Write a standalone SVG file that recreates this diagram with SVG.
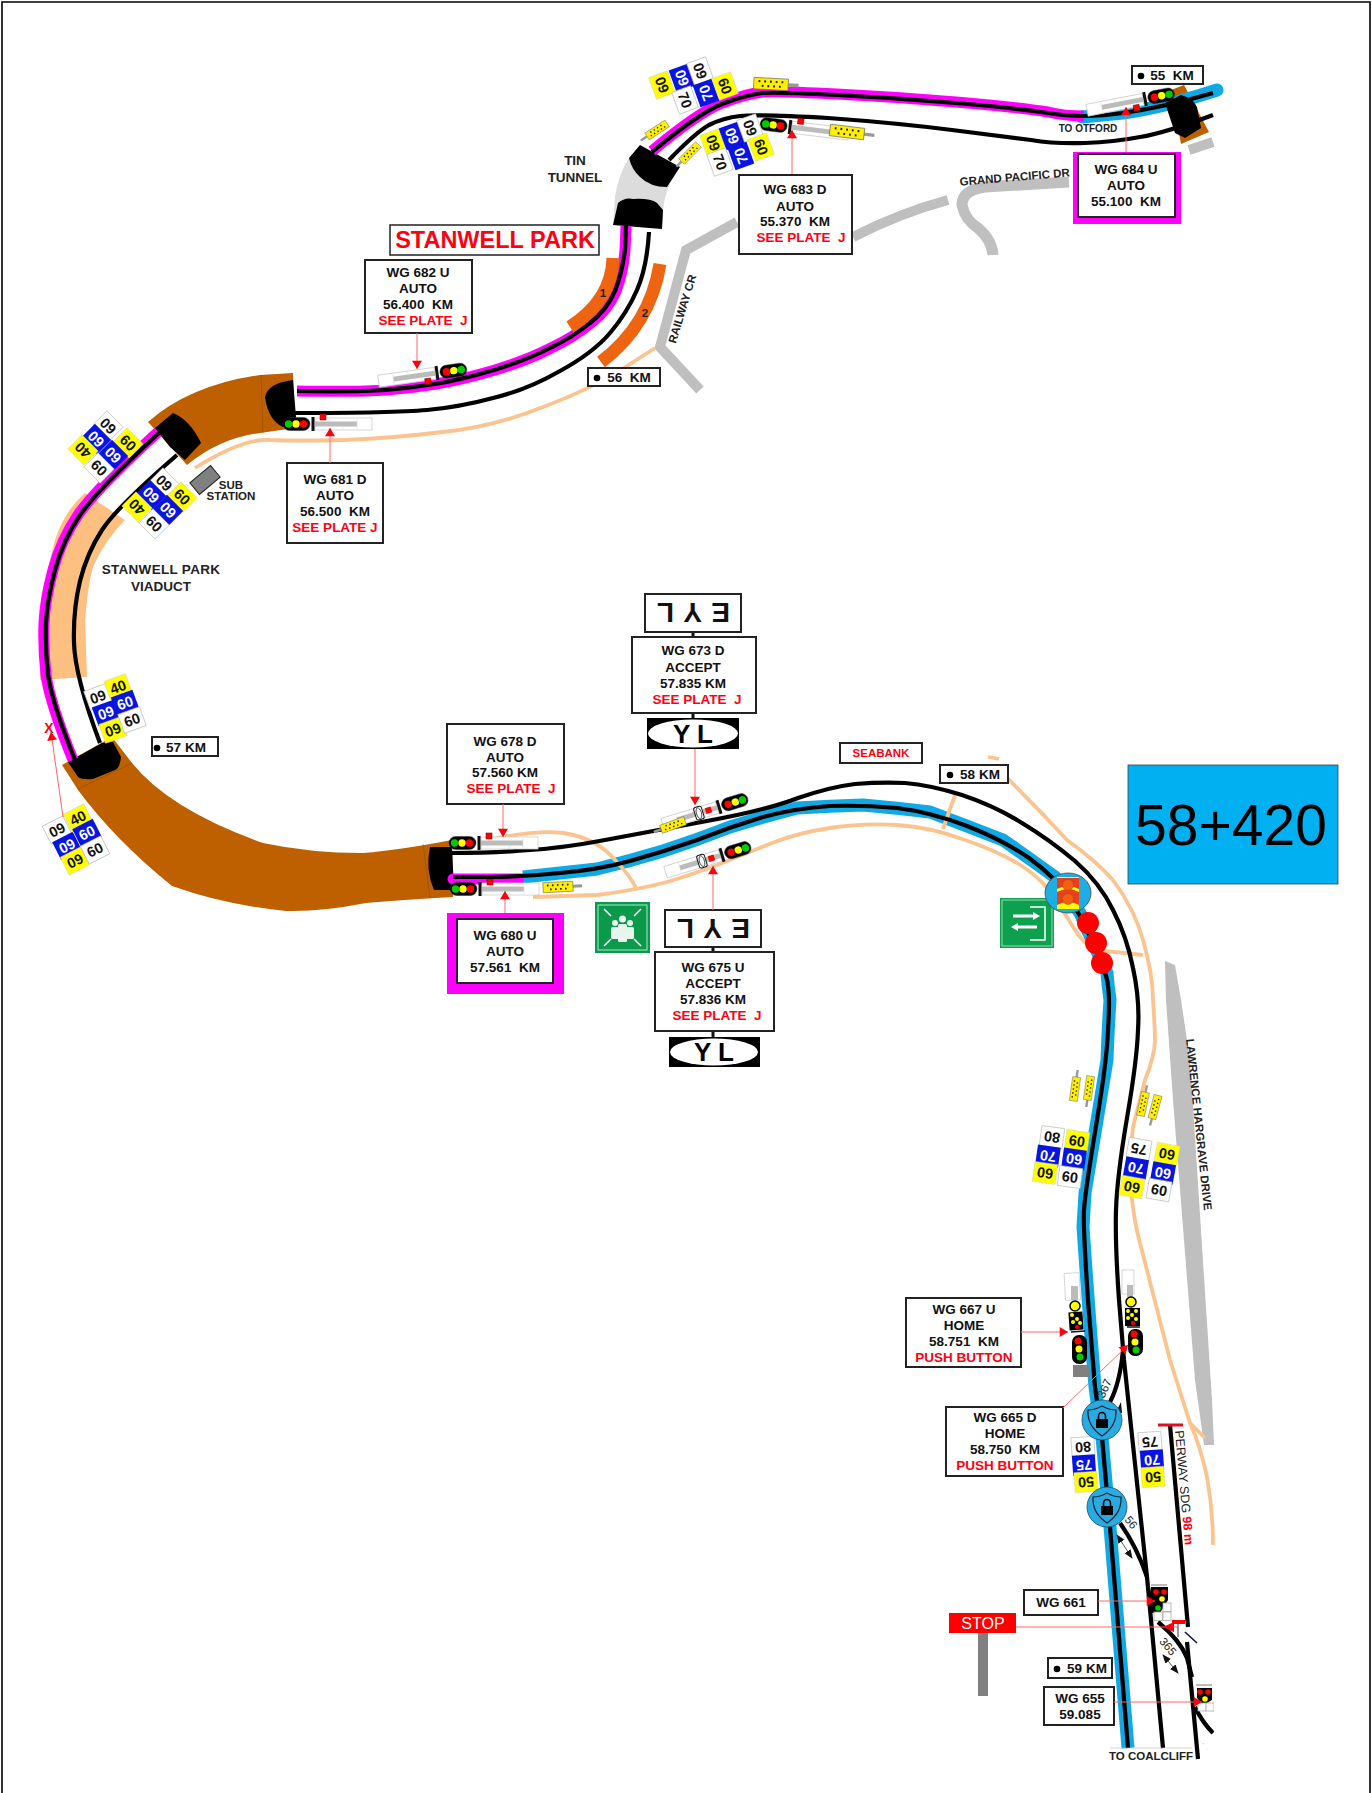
<svg xmlns="http://www.w3.org/2000/svg" width="1372" height="1793" viewBox="0 0 1372 1793">
<style>
text{font-family:"Liberation Sans",Arial,sans-serif;white-space:pre;text-anchor:middle}
.t{font-size:13.5px;font-weight:700;fill:#111}
.r{font-size:13.5px;font-weight:700;fill:#f01}
.box{fill:#fff;stroke:#222;stroke-width:2}
.n{font-size:14.5px;font-weight:700;fill:#111}
.nw{font-size:14.5px;font-weight:700;fill:#fff}
.lbl{font-size:11.5px;font-weight:700;fill:#222}
.trk{fill:none;stroke:#000;stroke-width:4.2}
.mag{fill:none;stroke:#f0f;stroke-width:11}
.blu{fill:none;stroke:#0fa9e6;stroke-width:13}
.pch{fill:none;stroke:#fbc48e;stroke-width:3.8}
.gry{fill:none;stroke:#bfbfbf;stroke-width:10}
.ld{fill:none;stroke:#f66;stroke-width:1;marker-end:url(#ah)}
.br{fill:#bf6000}
.po{fill:#000}
.or{fill:none;stroke:#ee6410;stroke-width:13}
.dbl{fill:none;stroke:#333;stroke-width:.8;marker-start:url(#bk);marker-end:url(#bk)}
</style>
<defs>
<marker id="ah" viewBox="0 0 10 12" refX="10" refY="6" markerWidth="10" markerHeight="10" markerUnits="userSpaceOnUse" orient="auto"><path d="M0,0L10,6L0,12Z" fill="#f01"/></marker>
<marker id="bk" viewBox="0 0 10 8" refX="9" refY="4" markerWidth="9" markerHeight="8" markerUnits="userSpaceOnUse" orient="auto-start-reverse"><path d="M0,0L10,4L0,8Z" fill="#111"/></marker>
<rect id="cw" x="-11.500" y="-10" width="23" height="20" fill="#fff" stroke="#bbb" stroke-width=".7"/>
<rect id="cb" x="-11.500" y="-10" width="23" height="20" fill="#0a14e0"/>
<rect id="cy" x="-11.500" y="-10" width="23" height="20" fill="#ff0" stroke="#ccc" stroke-width=".5"/>
<g id="post"><rect x="-59" y="-6" width="57" height="12" fill="#fff" stroke="#ccc" stroke-width=".8"/><rect x="-44" y="-2.5" width="42" height="5" fill="#bbb"/><path d="M-44,-6V6M-30,-6V-2M-16,2V6" stroke="#ddd" stroke-width=".6"/></g>
<g id="head"><rect x="-1.500" y="-7" width="3" height="14" fill="#111"/><rect x="3" y="-6.500" width="27" height="13" rx="6.500" fill="#000" stroke="#333" stroke-width=".5"/><circle cx="9.500" r="3.700" fill="#f00"/><circle cx="17" r="3.700" fill="#ff0"/><circle cx="24.500" r="3.700" fill="#0c0"/></g>
<g id="sig"><use href="#post"/><use href="#head"/><rect x="-13" y="4" width="6" height="6" fill="#f00" stroke="#600" stroke-width=".5"/></g>
<g id="sigyl"><use href="#post"/><use href="#head"/><rect x="-14" y="-3" width="6" height="6" fill="#f00"/><rect x="-25" y="-6.500" width="8" height="13" rx="2" fill="#fff" stroke="#111"/><ellipse cx="-21" rx="2.500" ry="5.500" fill="none" stroke="#111" stroke-width=".7"/></g>
<g id="pad"><rect x="15" y="-1.500" width="9" height="3" fill="#999"/><rect x="-15" y="-5" width="30" height="10" fill="#ffef00" stroke="#666" stroke-width=".6"/><path d="M-11,-2h1.600M-6,-2h1.600M-1,-2h1.600M4,-2h1.600M9,-2h1.600M-8,2h1.600M-3,2h1.600M2,2h1.600M7,2h1.600" stroke="#222" stroke-width="1.800"/></g>
<g id="lock"><circle r="20" fill="#29abe2" stroke="#14506e" stroke-width=".8"/><path d="M0,-14Q7,-10 14,-10Q15,6 0,16Q-15,6 -14,-10Q-7,-10 0,-14Z" fill="none" stroke="#123" stroke-width="1.200"/><path d="M-3.500,-1V-4A3.500,3.500 0 0 1 3.500,-4V-1" fill="none" stroke="#000" stroke-width="1.600"/><rect x="-6" y="-1" width="12" height="9" fill="#000"/></g>
<clipPath id="edge"><rect x="0" y="0" width="1214" height="1793"/></clipPath>
</defs>
<rect width="1372" height="1793" fill="#fff"/>
<path id="frame" d="M2,1793V2H1370V1793" fill="none" stroke="#000" stroke-width="1.600"/>

<g id="roads">
<path class="gry" style="stroke-width:11" d="M1069,182L985,187Q962,190 962,205Q965,220 978,228Q992,240 993,255"/>
<path class="gry" d="M948,200Q900,213 853,237"/>
<path class="gry" d="M737,222L686,250L660,347L700,390"/>
<path class="gry" d="M1213,142L1189,150"/>
<path d="M1165,961L1175,965L1181,1000L1190,1060L1212,1400L1214,1445L1204,1445L1195,1380L1173,1100L1166,1000Z" fill="#bfbfbf"/>
</g>

<g id="viaduct"><path d="M85,493Q65,510 55,540L42,593L40,680L87,677L85,620Q88,585 93,567Q105,540 125,520L98,502Z" fill="#fdc080"/></g>
<g id="tunnel-1"><path class="br" d="M293,373L260,375Q190,385 148,422L187,465Q220,438 260,433L295,428Z"/><path class="po" d="M155,428L173,413Q190,420 201,443L185,460L170,447Z"/><path class="po" d="M265,397Q268,383 293,380L296,417Q290,428 283,427Q268,420 265,397Z"/><path d="M261,375L263,433" stroke="#8a4500" stroke-width=".5"/></g>
<g id="tunnel-2"><path class="br" d="M62,765L112,737L132,763Q170,810 263,843Q310,853 363,853Q400,850 452,840L453,897Q400,900 366,903Q320,912 286,911Q225,905 172,886Q115,840 78,790Z"/><path class="po" d="M68,762L102,743L113,742L121,757Q120,768 115,770L93,779Q82,780 78,777Z"/><path class="po" d="M430,847L452,847L454,890L434,890Q425,870 430,847Z"/><path d="M78,789L132,763M423,844L430,898" stroke="#8a4500" stroke-width=".5" fill="none"/></g>
<g id="tin-tunnel"><path d="M615,197Q618,175 629,158L675,175Q665,190 663,210L662,229L613,225Z" fill="#dcdcdc"/><path class="po" d="M640,145L680,167L667,187Q650,187 640,177Q632,170 629,158Z"/><path class="po" d="M618,203Q625,197 633,199Q650,198 657,203L663,210L662,229L613,225Z"/></g>
<g id="tunnel-3"><path class="br" d="M1171,90L1184,85L1209,132L1181,144Z"/></g>

<g id="tracks">
<path class="blu" stroke-linecap="round" d="M1217,90Q1165,107 1123,113L1082,117"/>
<path class="mag" d="M1084,116Q1065,116 1048,112Q1015,107 956,102Q897,97 837,94Q778,91 762,92Q746,94 722,103Q699,112 652,151"/>
<path class="mag" d="M626,226L625,250Q623,273 616,291Q608,310 591,323Q574,337 551,348Q528,360 495,370Q461,380 436,384Q411,388 386,390Q361,392 297,391"/>
<path class="mag" d="M160,432Q97,490 80,515Q63,540 55,570Q47,600 46,623Q45,647 48,675Q52,703 75,760" transform="translate(-2,0)"/>
<path class="mag" d="M453,879L520,879" stroke-linecap="round"/>
<path class="blu" d="M523,877Q560,873 597,869Q630,861 663,851Q697,840 730,827Q763,817 797,808Q830,806 863,805Q897,808 930,812Q967,826 1003,840Q1029,858 1055,877Q1067,895 1080,913Q1093,943 1107,973Q1108,986 1110,1000Q1108,1030 1107,1060Q1096,1126 1085,1193Q1084,1210 1083,1227Q1088,1300 1095,1387L1102,1437L1110,1527L1128,1748"/>
<path class="pch" d="M655,348L624,368Q593,388 543,407Q493,427 443,432Q393,438 345,440Q297,441 270,440Q243,438 195,468"/>
<path class="pch" d="M533,897L597,895Q637,890 667,882Q697,873 722,863Q747,853 772,843Q797,833 830,828Q863,823 897,825Q930,827 965,840Q1000,852 1022,866Q1043,880 1055,898Q1067,917 1075,930Q1083,943 1095,950L1143,955"/>
<path class="pch" d="M490,840L497,838Q540,830 563,833Q597,838 615,860Q630,875 637,890"/>
<path class="pch" d="M995,766Q1030,800 1067,840Q1095,860 1113,880Q1135,910 1143,940Q1153,975 1153,1000Q1155,1030 1155,1040Q1155,1055 1145,1080L1133,1127Q1128,1170 1132,1200Q1135,1225 1140,1243L1170,1360L1190,1423Q1200,1445 1207,1477Q1213,1510 1213,1545"/>
<path class="pch" d="M1190,1423L1205,1438M955,795L943,829M988,757L999,759"/>
<path class="trk" d="M1213,93Q1165,107 1123,113Q1082,119 1048,113Q1015,108 956,103Q897,98 837,95Q778,92 762,93Q746,95 722,104Q699,113 652,152"/>
<path class="trk" d="M626,226L625,250Q622,273 615,291Q607,310 590,323Q573,337 550,348Q527,360 494,370Q460,380 435,384Q410,388 385,390Q360,392 297,391"/>
<path class="trk" d="M160,432Q97,490 80,515Q63,540 55,570Q47,600 46,623Q45,647 48,675Q52,703 75,760"/>
<path class="trk" d="M1213,115Q1165,133 1140,137Q1114,142 1085,143Q1055,144 1031,140Q1007,137 952,130Q897,123 828,118Q758,114 740,116Q723,118 709,125Q695,133 669,160"/>
<path class="trk" d="M649,232Q647,267 637,290Q627,313 610,333Q593,353 560,371Q527,390 493,398Q460,407 427,410Q393,413 295,413"/>
<path class="trk" d="M177,455Q117,507 102,530Q87,553 80,581Q73,610 74,643Q75,677 100,743"/>
<path class="trk" d="M450,853Q497,853 530,850Q563,848 605,840Q647,832 707,821Q767,810 798,798Q830,787 855,784Q880,782 905,783Q930,785 962,795Q995,806 1022,823Q1050,840 1075,861Q1100,883 1113,910Q1127,937 1133,968Q1140,1000 1138,1030Q1137,1060 1127,1118Q1117,1177 1116,1210Q1115,1243 1119,1300L1124,1360L1147,1577L1163,1748"/>
<path class="trk" d="M453,877L490,877Q523,877 560,873Q597,870 630,861Q663,852 697,840Q730,827 763,817Q797,808 830,806Q863,805 897,808Q930,812 967,826Q1003,840 1029,858Q1055,877 1067,895Q1080,913 1093,943Q1107,973 1108,986Q1110,1000 1108,1030Q1107,1060 1096,1126Q1085,1193 1084,1210Q1083,1227 1088,1300L1095,1387L1102,1437L1110,1527L1128,1748"/>
<path class="trk" d="M1110,1402Q1120,1383 1123,1350"/>
<path class="trk" d="M1120,1523Q1137,1547 1147,1577"/>
<path class="trk" d="M1170,1425L1188,1627"/>
<path d="M1185,1632L1197,1643" stroke="#115" stroke-width="1.600" fill="none"/>
<path class="trk" d="M1187,1642L1198,1759"/>
<path class="trk" d="M1158,1622Q1180,1640 1187,1658L1192,1677"/>
<path class="trk" d="M1195,1707Q1202,1722 1213,1733" clip-path="url(#edge)"/>
<path d="M1158,1425H1183" stroke="#e01020" stroke-width="3"/>
<path class="dbl" d="M1117,1535L1132,1558"/>
<path class="dbl" d="M1163,1655L1178,1673"/>
<path d="M1116,1412L1121,1402L1122,1413Z" fill="#111"/>
<path d="M1110,1748H1192" stroke="#bbb" stroke-width=".6"/>
</g>

<g id="platform-1"><path class="or" d="M613,258Q612,300 570,327"/><text class="lbl" x="603" y="297">1</text></g>
<g id="platform-2"><path class="or" d="M660,264Q650,325 601,362"/><text class="lbl" x="645" y="317">2</text></g>
<g id="portal-tu3"><path class="po" d="M1165,103L1181,95Q1193,98 1197,107L1201,128L1185,138L1175,133Z"/></g>

<g id="sig-684"><use href="#sig" transform="translate(1145,99) rotate(-11)"/></g>
<g id="sig-683"><use href="#sig" transform="translate(790,127) rotate(187)"/><use href="#pad" transform="translate(847,132) rotate(7) scale(1.150)"/></g>
<g id="sig-682"><use href="#sig" transform="translate(437,373) rotate(-8)"/></g>
<g id="sig-681"><use href="#sig" transform="translate(313,424) rotate(180)"/></g>
<g id="sig-678"><use href="#sig" transform="translate(479,843) rotate(180)"/></g>
<g id="sig-680"><use href="#sig" transform="translate(480,889) rotate(180)"/><use href="#pad" transform="translate(558,887) rotate(-3)"/></g>
<g id="sig-673"><use href="#sigyl" transform="translate(719,807) rotate(-17)"/><use href="#pad" transform="translate(673,825) rotate(160) scale(.85)"/></g>
<g id="sig-675"><use href="#sigyl" transform="translate(722,855) rotate(-17)"/></g>
<g id="sig-667">
<rect x="1065" y="1273" width="15" height="27" fill="#fff" stroke="#ccc" stroke-width=".8" transform="rotate(-3 1073 1290)"/><rect x="1071" y="1286" width="7" height="14" fill="#bbb"/>
<circle cx="1075" cy="1306" r="5" fill="#ff0" stroke="#000" stroke-width="1.500"/>
<rect x="1069" y="1312" width="14" height="18" fill="#000" transform="rotate(-4 1076 1321)"/>
<g fill="#ff0"><circle cx="1072" cy="1315" r="2"/><circle cx="1077" cy="1319" r="2"/><circle cx="1073" cy="1322" r="2"/><circle cx="1080" cy="1323" r="2"/></g><circle cx="1077" cy="1327" r="2" fill="#f00"/>
<path d="M1071,1332L1085,1331" stroke="#111" stroke-width="1.500"/>
<rect x="1072" y="1335" width="15" height="29" rx="7" fill="#000"/><circle cx="1078" cy="1341" r="3.500" fill="#f00"/><circle cx="1079" cy="1349" r="3.500" fill="#ff0"/><circle cx="1080" cy="1357" r="3.500" fill="#0c0"/>
<rect x="1073" y="1365" width="17" height="12" fill="#808080"/>
</g>
<g id="sig-665">
<rect x="1122" y="1270" width="12" height="24" fill="#fff" stroke="#ccc" stroke-width=".8"/><rect x="1127" y="1285" width="6" height="12" fill="#bbb"/>
<circle cx="1131" cy="1302" r="5" fill="#ff0" stroke="#000" stroke-width="1.500"/>
<rect x="1125" y="1308" width="15" height="18" fill="#000"/>
<g fill="#ff0"><circle cx="1128" cy="1311" r="2"/><circle cx="1136" cy="1311" r="2"/><circle cx="1132" cy="1315" r="2"/><circle cx="1128" cy="1318" r="2"/><circle cx="1136" cy="1319" r="2"/></g><circle cx="1133" cy="1323" r="2" fill="#f00"/>
<path d="M1127,1327H1140" stroke="#111" stroke-width="1.500"/>
<rect x="1128" y="1329" width="15" height="27" rx="7" fill="#000"/><circle cx="1134" cy="1334" r="3.500" fill="#f00"/><circle cx="1135" cy="1342" r="3.500" fill="#ff0"/><circle cx="1136" cy="1350" r="3.500" fill="#0c0"/>
</g>
<g id="sig-661">
<path d="M1151,1585H1167" stroke="#555" stroke-width=".8"/>
<path d="M1151,1587H1168L1168,1600L1160,1613L1150,1613L1148,1603Z" fill="#000"/>
<circle cx="1156" cy="1592" r="2.800" fill="#f00"/><circle cx="1164" cy="1592" r="2.800" fill="#f00"/><circle cx="1162" cy="1599" r="2.800" fill="#ff0"/><circle cx="1158" cy="1608" r="2.800" fill="#0c0"/>
<g fill="#fff" stroke="#aaa" stroke-width=".8"><rect x="1163" y="1603" width="8" height="8.500"/><rect x="1154" y="1612" width="8.500" height="8.500"/><rect x="1163" y="1612" width="8" height="8.500"/></g>
</g>
<g id="sig-655" clip-path="url(#edge)">
<path d="M1196,1685H1212" stroke="#555" stroke-width=".8"/>
<path d="M1197,1688H1212V1700L1207,1703H1201L1197,1698Z" fill="#000"/>
<circle cx="1200" cy="1692" r="2.800" fill="#f00"/><circle cx="1208" cy="1692" r="2.800" fill="#f00"/><circle cx="1205" cy="1699" r="2.800" fill="#ff0"/>
<g fill="#fff" stroke="#aaa" stroke-width=".8"><rect x="1198" y="1703" width="8" height="8"/><rect x="1206" y="1703" width="8" height="8"/></g>
</g>
<g id="small-stop"><rect x="1172" y="1620" width="13" height="4" fill="#f00"/><rect x="1177" y="1624" width="2" height="13" fill="#999"/></g>

<g id="pads">
<use href="#pad" transform="translate(771,84) rotate(3) scale(1.150)"/>
<use href="#pad" transform="translate(657,130) rotate(147) scale(.8)"/>
<use href="#pad" transform="translate(690,153) rotate(135) scale(.8)"/>
<use href="#pad" transform="translate(1075,1089) rotate(-82) scale(.8)"/>
<use href="#pad" transform="translate(1089,1088) rotate(98) scale(.8)"/>
<use href="#pad" transform="translate(1143,1104) rotate(-78) scale(.8)"/>
<use href="#pad" transform="translate(1155,1107) rotate(105) scale(.8)"/>
</g>

<g id="plates">
<g transform="translate(662,85) rotate(-110)"><use href="#cy"/><text class="n" y="5">60</text></g>
<g transform="translate(682,78) rotate(-110)"><use href="#cb"/><text class="nw" y="5">60</text></g>
<g transform="translate(700,71) rotate(-110)"><use href="#cw"/><text class="n" y="5">60</text></g>
<g transform="translate(685,100) rotate(70)"><use href="#cw"/><text class="n" y="5">70</text></g>
<g transform="translate(706,93) rotate(-110)"><use href="#cb"/><text class="nw" y="5">70</text></g>
<g transform="translate(725,86) rotate(70)"><use href="#cy"/><text class="n" y="5">60</text></g>
<g transform="translate(713,143) rotate(-110)"><use href="#cy"/><text class="n" y="5">60</text></g>
<g transform="translate(732,136) rotate(-110)"><use href="#cb"/><text class="nw" y="5">60</text></g>
<g transform="translate(750,128) rotate(-110)"><use href="#cw"/><text class="n" y="5">60</text></g>
<g transform="translate(720,162) rotate(70)"><use href="#cw"/><text class="n" y="5">70</text></g>
<g transform="translate(741,156) rotate(-110)"><use href="#cb"/><text class="nw" y="5">70</text></g>
<g transform="translate(761,147) rotate(70)"><use href="#cy"/><text class="n" y="5">60</text></g>
<g transform="translate(108,426) rotate(225)"><use href="#cw"/><text class="n" y="5">60</text></g>
<g transform="translate(96,439) rotate(225)"><use href="#cb"/><text class="nw" y="5">60</text></g>
<g transform="translate(83,450) rotate(225)"><use href="#cy"/><text class="n" y="5">40</text></g>
<g transform="translate(128,443) rotate(45)"><use href="#cy"/><text class="n" y="5">60</text></g>
<g transform="translate(113,455) rotate(225)"><use href="#cb"/><text class="nw" y="5">60</text></g>
<g transform="translate(99,468) rotate(45)"><use href="#cw"/><text class="n" y="5">60</text></g>
<g transform="translate(164,483) rotate(225)"><use href="#cw"/><text class="n" y="5">60</text></g>
<g transform="translate(151,495) rotate(225)"><use href="#cb"/><text class="nw" y="5">60</text></g>
<g transform="translate(137,507) rotate(225)"><use href="#cy"/><text class="n" y="5">40</text></g>
<g transform="translate(182,497) rotate(45)"><use href="#cy"/><text class="n" y="5">60</text></g>
<g transform="translate(168,510) rotate(225)"><use href="#cb"/><text class="nw" y="5">60</text></g>
<g transform="translate(154,524) rotate(45)"><use href="#cw"/><text class="n" y="5">60</text></g>
<g transform="translate(98,697) rotate(160)"><use href="#cw"/><text class="n" y="5">60</text></g>
<g transform="translate(106,713) rotate(160)"><use href="#cb"/><text class="nw" y="5">60</text></g>
<g transform="translate(113,730) rotate(160)"><use href="#cy"/><text class="n" y="5">60</text></g>
<g transform="translate(118,687) rotate(-20)"><use href="#cy"/><text class="n" y="5">40</text></g>
<g transform="translate(125,703) rotate(-20)"><use href="#cb"/><text class="nw" y="5">60</text></g>
<g transform="translate(132,720) rotate(-20)"><use href="#cw"/><text class="n" y="5">60</text></g>
<g transform="translate(57,830) rotate(153)"><use href="#cw"/><text class="n" y="5">60</text></g>
<g transform="translate(67,846) rotate(153)"><use href="#cb"/><text class="nw" y="5">60</text></g>
<g transform="translate(75,861) rotate(153)"><use href="#cy"/><text class="n" y="5">60</text></g>
<g transform="translate(78,818) rotate(-27)"><use href="#cy"/><text class="n" y="5">40</text></g>
<g transform="translate(87,833) rotate(-27)"><use href="#cb"/><text class="nw" y="5">60</text></g>
<g transform="translate(95,850) rotate(-27)"><use href="#cw"/><text class="n" y="5">60</text></g>
<g transform="translate(1052,1137) rotate(188)"><use href="#cw"/><text class="n" y="5">80</text></g>
<g transform="translate(1048,1156) rotate(188)"><use href="#cb"/><text class="nw" y="5">70</text></g>
<g transform="translate(1045,1173) rotate(188)"><use href="#cy"/><text class="n" y="5">60</text></g>
<g transform="translate(1077,1141) rotate(8)"><use href="#cy"/><text class="n" y="5">60</text></g>
<g transform="translate(1074,1159) rotate(188)"><use href="#cb"/><text class="nw" y="5">60</text></g>
<g transform="translate(1070,1177) rotate(8)"><use href="#cw"/><text class="n" y="5">60</text></g>
<g transform="translate(1139,1149) rotate(190)"><use href="#cw"/><text class="n" y="5">75</text></g>
<g transform="translate(1136,1168) rotate(190)"><use href="#cb"/><text class="nw" y="5">70</text></g>
<g transform="translate(1132,1187) rotate(190)"><use href="#cy"/><text class="n" y="5">60</text></g>
<g transform="translate(1167,1154) rotate(190)"><use href="#cy"/><text class="n" y="5">60</text></g>
<g transform="translate(1163,1173) rotate(190)"><use href="#cb"/><text class="nw" y="5">60</text></g>
<g transform="translate(1159,1190) rotate(10)"><use href="#cw"/><text class="n" y="5">60</text></g>
<g transform="translate(1083,1447) rotate(176)"><use href="#cw"/><text class="n" y="5">80</text></g>
<g transform="translate(1084,1465) rotate(176)"><use href="#cb"/><text class="nw" y="5">75</text></g>
<g transform="translate(1086,1482) rotate(176)"><use href="#cy"/><text class="n" y="5">50</text></g>
<g transform="translate(1150,1442) rotate(176)"><use href="#cw"/><text class="n" y="5">75</text></g>
<g transform="translate(1152,1460) rotate(176)"><use href="#cb"/><text class="nw" y="5">70</text></g>
<g transform="translate(1153,1477) rotate(176)"><use href="#cy"/><text class="n" y="5">50</text></g>
</g>

<g id="substation"><rect x="-13.500" y="-7.500" width="27" height="15" transform="translate(205,480) rotate(-40)" fill="#808080" stroke="#222"/><text class="lbl" x="231" y="489">SUB</text><text class="lbl" x="231" y="500">STATION</text></g>
<g id="labels">
<text class="lbl" style="font-size:13.500px" x="575" y="165">TIN</text>
<text class="lbl" style="font-size:13.500px" x="575" y="182">TUNNEL</text>
<text class="lbl" style="font-size:13.500px;letter-spacing:.3px" x="161" y="574">STANWELL PARK</text>
<text class="lbl" style="font-size:13.500px" x="161" y="591">VIADUCT</text>
<text class="lbl" style="font-size:10px" x="1088" y="132">TO OTFORD</text>
<text class="lbl" transform="translate(1015,181) rotate(-5)">GRAND PACIFIC DR</text>
<text class="lbl" transform="translate(686,310) rotate(-73)">RAILWAY CR</text>
<text class="lbl" transform="translate(1195,1125) rotate(84)">LAWRENCE HARGRAVE DRIVE</text>
<text class="lbl" style="font-weight:400;font-size:12.500px" transform="translate(1180,1488) rotate(85)">PERWAY SDG <tspan fill="#f01" font-weight="700">98 m</tspan></text>
<text class="lbl" x="1151" y="1760">TO COALCLIFF</text>
<text class="lbl" style="font-weight:400" transform="translate(1108,1390) rotate(-65)">367</text>
<text class="lbl" style="font-weight:400" transform="translate(1128,1525) rotate(50)">56</text>
<text class="lbl" style="font-weight:400" transform="translate(1165,1649) rotate(50)">365</text>
<text class="lbl" style="font-weight:400" clip-path="url(#edge)" transform="translate(1203,1743) rotate(55)">364</text>
<text x="49" y="733" font-size="14" font-weight="700" fill="#f01">X</text>
</g>

<g id="b-stanwell"><rect x="390" y="225" width="209" height="30" fill="#fff" stroke="#222" stroke-width="1.500"/><text x="495" y="248" font-size="23.500" font-weight="700" fill="#f01">STANWELL PARK</text></g>
<g id="wg682"><rect class="box" x="365" y="260" width="107" height="73"/><text class="t" x="418" y="277">WG 682 U</text><text class="t" x="418" y="293">AUTO</text><text class="t" x="418" y="309">56.400  KM</text><text class="r" x="423" y="325">SEE PLATE  J</text></g>
<g id="wg681"><rect class="box" x="287" y="463" width="96" height="80"/><text class="t" x="335" y="484">WG 681 D</text><text class="t" x="335" y="500">AUTO</text><text class="t" x="335" y="516">56.500  KM</text><text class="r" x="335" y="532">SEE PLATE J</text></g>
<g id="wg683"><rect class="box" x="739" y="175" width="113" height="79"/><text class="t" x="795" y="194">WG 683 D</text><text class="t" x="795" y="211">AUTO</text><text class="t" x="795" y="226">55.370  KM</text><text class="r" x="801" y="242">SEE PLATE  J</text></g>
<g id="wg684"><rect x="1073" y="152" width="108" height="72" fill="#f0f"/><rect class="box" x="1078" y="154" width="97" height="63"/><text class="t" x="1126" y="174">WG 684 U</text><text class="t" x="1126" y="190">AUTO</text><text class="t" x="1126" y="206">55.100  KM</text></g>
<g id="wg678"><rect class="box" x="447" y="724" width="117" height="80"/><text class="t" x="505" y="746">WG 678 D</text><text class="t" x="505" y="762">AUTO</text><text class="t" x="505" y="777">57.560 KM</text><text class="r" x="511" y="793">SEE PLATE  J</text></g>
<g id="wg680"><rect x="447" y="913" width="117" height="81" fill="#f0f"/><rect class="box" x="457" y="919" width="96" height="64"/><text class="t" x="505" y="940">WG 680 U</text><text class="t" x="505" y="956">AUTO</text><text class="t" x="505" y="972">57.561  KM</text></g>
<g id="wg673">
<rect x="691.500" y="632" width="3" height="6" fill="#111"/><rect x="691.500" y="712" width="3" height="7" fill="#111"/>
<rect class="box" x="645" y="594" width="96" height="38"/><text transform="translate(693,613) rotate(180)" y="10" font-size="28" font-weight="700" fill="#111" style="letter-spacing:1px">E Y L</text>
<rect class="box" x="632" y="637" width="124" height="76"/><text class="t" x="693" y="655">WG 673 D</text><text class="t" x="693" y="672">ACCEPT</text><text class="t" x="693" y="688">57.835 KM</text><text class="r" x="697" y="704">SEE PLATE  J</text>
<rect x="647" y="718" width="92" height="31" fill="#000"/><ellipse cx="693" cy="733.500" rx="45" ry="14" fill="#fff"/><text x="693" y="743" font-size="26" font-weight="700" fill="#000">Y L</text>
</g>
<g id="wg675">
<rect x="711.500" y="947" width="3" height="5" fill="#111"/><rect x="711.500" y="1031" width="3" height="7" fill="#111"/>
<rect class="box" x="665" y="910" width="96" height="37"/><text transform="translate(713,929) rotate(180)" y="10" font-size="28" font-weight="700" fill="#111" style="letter-spacing:1px">E Y L</text>
<rect class="box" x="655" y="952" width="119" height="79"/><text class="t" x="713" y="972">WG 675 U</text><text class="t" x="713" y="988">ACCEPT</text><text class="t" x="713" y="1004">57.836 KM</text><text class="r" x="717" y="1020">SEE PLATE  J</text>
<rect x="669" y="1037" width="91" height="30" fill="#000"/><ellipse cx="714" cy="1052" rx="44" ry="13.500" fill="#fff"/><text x="714" y="1061" font-size="26" font-weight="700" fill="#000">Y L</text>
</g>
<g id="wg667"><rect class="box" x="906" y="1298" width="115" height="69"/><text class="t" x="964" y="1314">WG 667 U</text><text class="t" x="964" y="1330">HOME</text><text class="t" x="964" y="1346">58.751  KM</text><text class="r" x="964" y="1362">PUSH BUTTON</text></g>
<g id="wg665"><rect class="box" x="946" y="1407" width="117" height="69"/><text class="t" x="1005" y="1422">WG 665 D</text><text class="t" x="1005" y="1438">HOME</text><text class="t" x="1005" y="1454">58.750  KM</text><text class="r" x="1005" y="1470">PUSH BUTTON</text></g>
<g id="wg661"><rect class="box" x="1024" y="1590" width="74" height="25"/><text class="t" x="1061" y="1607">WG 661</text></g>
<g id="wg655"><rect class="box" x="1044" y="1687" width="70" height="38"/><text class="t" x="1080" y="1703">WG 655</text><text class="t" x="1080" y="1719">59.085</text></g>
<g id="km55"><rect class="box" x="1132" y="66" width="71" height="18"/><circle cx="1141" cy="76" r="3.300"/><text class="t" x="1172" y="80">55  KM</text></g>
<g id="km56"><rect class="box" x="588" y="368" width="72" height="18"/><circle cx="597" cy="378" r="3.300"/><text class="t" x="629" y="382">56  KM</text></g>
<g id="km57"><rect class="box" x="152" y="737" width="66" height="19"/><circle cx="157" cy="748" r="3.300"/><text class="t" x="186" y="752">57 KM</text></g>
<g id="km58"><rect class="box" x="940" y="765" width="68" height="18"/><circle cx="950" cy="775" r="3.300"/><text class="t" x="980" y="779">58 KM</text></g>
<g id="km59"><rect class="box" x="1048" y="1658" width="64" height="20"/><circle cx="1057" cy="1669" r="3.300"/><text class="t" x="1087" y="1673">59 KM</text></g>
<g id="seabank"><rect class="box" x="840" y="743" width="82" height="20"/><text class="r" style="font-size:11.500px" x="881" y="757">SEABANK</text></g>
<g id="chainage"><rect x="1128" y="765" width="210" height="119" fill="#00b0f0" stroke="#345" stroke-width=".8"/><text x="1231" y="845" font-size="57" fill="#000">58+420</text></g>
<g id="stop"><rect x="978" y="1633" width="10" height="63" fill="#808080"/><rect x="949" y="1613" width="67" height="20" fill="#f00"/><text x="983" y="1629" font-size="16" fill="#fff">STOP</text></g>

<g id="assembly"><rect x="595" y="902" width="55" height="51" fill="#0b9a4b"/><rect x="598" y="905" width="49" height="45" fill="none" stroke="#cfe" stroke-width=".8"/>
<path d="M604,909L611,916M641,909L634,916M604,946L611,939M641,946L634,939" stroke="#fff" stroke-width="1.500"/>
<g fill="#e8f5ec"><circle cx="622.500" cy="919" r="3.500"/><circle cx="615" cy="923" r="3"/><circle cx="630" cy="923" r="3"/><rect x="611" y="927" width="8" height="12" rx="1.500"/><rect x="626" y="927" width="8" height="12" rx="1.500"/><rect x="618" y="924" width="9" height="18" rx="1.500"/></g></g>
<g id="exit"><rect x="1000" y="898" width="54" height="50" fill="#0da04e"/><rect x="1002" y="900" width="50" height="46" fill="none" stroke="#bfe8cc" stroke-width=".8"/>
<path d="M1030,907H1045V940H1030" fill="none" stroke="#fff" stroke-width="1.500"/><path d="M1013,916H1034M1037,927H1016" stroke="#fff" stroke-width="3"/><path d="M1033,912L1040,916L1033,920ZM1018,923L1011,927L1018,931Z" fill="#fff"/></g>
<g id="emblem"><ellipse cx="1068" cy="893" rx="23" ry="20" fill="#1faee4" stroke="#444" stroke-width=".8"/><rect x="1057" y="877" width="22" height="32" fill="#ff0"/><path d="M1057,878H1079V889Q1068,883 1057,889ZM1057,892Q1068,886 1079,892V905Q1068,899 1057,905Z" fill="#e8401a"/><circle cx="1068" cy="885" r="5.500" fill="#f0620f" stroke="#a33" stroke-width=".4"/><circle cx="1068" cy="899" r="5.500" fill="#f0620f" stroke="#a33" stroke-width=".4"/></g>
<g id="red-dots" fill="#f00"><circle cx="1088" cy="923" r="11"/><circle cx="1096" cy="943" r="11"/><circle cx="1102" cy="963" r="11"/></g>
<g id="lock-1"><use href="#lock" transform="translate(1102,1420)"/></g>
<g id="lock-2"><use href="#lock" transform="translate(1107,1507)"/></g>

<g id="connectors">
<path class="ld" d="M417,333V369"/>
<path class="ld" d="M330,463V428"/>
<path class="ld" d="M792,174V130"/>
<path class="ld" d="M1126,152V107"/>
<path class="ld" d="M503,804V837"/>
<path class="ld" d="M505,913V891"/>
<path class="ld" d="M695,749V805"/>
<path class="ld" d="M713,910V866"/>
<path class="ld" d="M63,817L51,732"/>
<path class="ld" d="M1021,1332H1068"/>
<path class="ld" d="M1063,1408L1128,1345"/>
<path class="ld" d="M1098,1601H1155"/>
<path class="ld" d="M1016,1627H1178" style="marker-end:none"/>
<path d="M1174,1622L1163,1627L1174,1632Z" fill="#f01"/>
<path class="ld" d="M1114,1702H1202"/>
</g>
</svg>
